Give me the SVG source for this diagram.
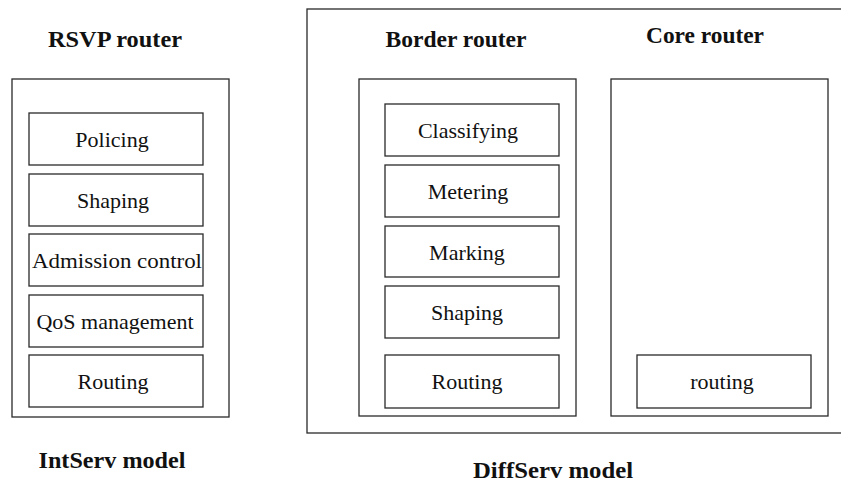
<svg xmlns="http://www.w3.org/2000/svg" width="841" height="483" viewBox="0 0 841 483">
  <style>
    .frame { fill: #ffffff; stroke: #2a2a2a; stroke-width: 1.3; }
    .box { fill: #ffffff; stroke: #2a2a2a; stroke-width: 1.3; }
    text { font-family: "Liberation Serif", "DejaVu Serif", "Times New Roman", serif; fill: #111111; text-anchor: middle; }
    .title { font-size: 23px; font-weight: bold; }
    .label { font-size: 22px; }
  </style>
  <rect x="0" y="0" width="841" height="483" fill="#ffffff"/>

  <!-- IntServ model -->
  <g id="intserv">
    <text class="title" x="115" y="47" textLength="134" lengthAdjust="spacingAndGlyphs">RSVP router</text>
    <rect class="frame" x="12" y="79" width="217" height="338"/>
    <g id="is-policing"><rect class="box" x="29" y="113" width="174" height="52"/><text class="label" x="112" y="147">Policing</text></g>
    <g id="is-shaping"><rect class="box" x="29" y="174" width="174" height="52"/><text class="label" x="113" y="208">Shaping</text></g>
    <g id="is-admission"><rect class="box" x="29" y="234" width="174" height="52"/><text class="label" x="117" y="268" textLength="170" lengthAdjust="spacingAndGlyphs">Admission control</text></g>
    <g id="is-qos"><rect class="box" x="29" y="295" width="174" height="52"/><text class="label" x="115" y="329">QoS management</text></g>
    <g id="is-routing"><rect class="box" x="29" y="355" width="174" height="52"/><text class="label" x="113" y="389">Routing</text></g>
    <text class="title" x="112" y="468" textLength="147" lengthAdjust="spacingAndGlyphs">IntServ model</text>
  </g>

  <!-- DiffServ model -->
  <g id="diffserv">
    <rect class="frame" x="307" y="9" width="545" height="424"/>
    <text class="title" x="553" y="478" textLength="160" lengthAdjust="spacingAndGlyphs">DiffServ model</text>
  </g>

  <g id="border-router">
    <text class="title" x="456" y="47" textLength="141" lengthAdjust="spacingAndGlyphs">Border router</text>
    <rect class="frame" x="359" y="79" width="217" height="337"/>
    <g id="br-classifying"><rect class="box" x="385" y="104" width="174" height="52"/><text class="label" x="468" y="138">Classifying</text></g>
    <g id="br-metering"><rect class="box" x="385" y="165" width="174" height="52"/><text class="label" x="468" y="199">Metering</text></g>
    <g id="br-marking"><rect class="box" x="385" y="226" width="174" height="51"/><text class="label" x="467" y="260">Marking</text></g>
    <g id="br-shaping"><rect class="box" x="385" y="286" width="174" height="52"/><text class="label" x="467" y="320">Shaping</text></g>
    <g id="br-routing"><rect class="box" x="385" y="355" width="174" height="53"/><text class="label" x="467" y="389">Routing</text></g>
  </g>

  <g id="core-router">
    <text class="title" x="705" y="43" textLength="118" lengthAdjust="spacingAndGlyphs">Core router</text>
    <rect class="frame" x="611" y="79" width="217" height="337"/>
    <g id="cr-routing"><rect class="box" x="637" y="355" width="174" height="53"/><text class="label" x="722" y="389">routing</text></g>
  </g>

  <g id="connectors"/>
</svg>
